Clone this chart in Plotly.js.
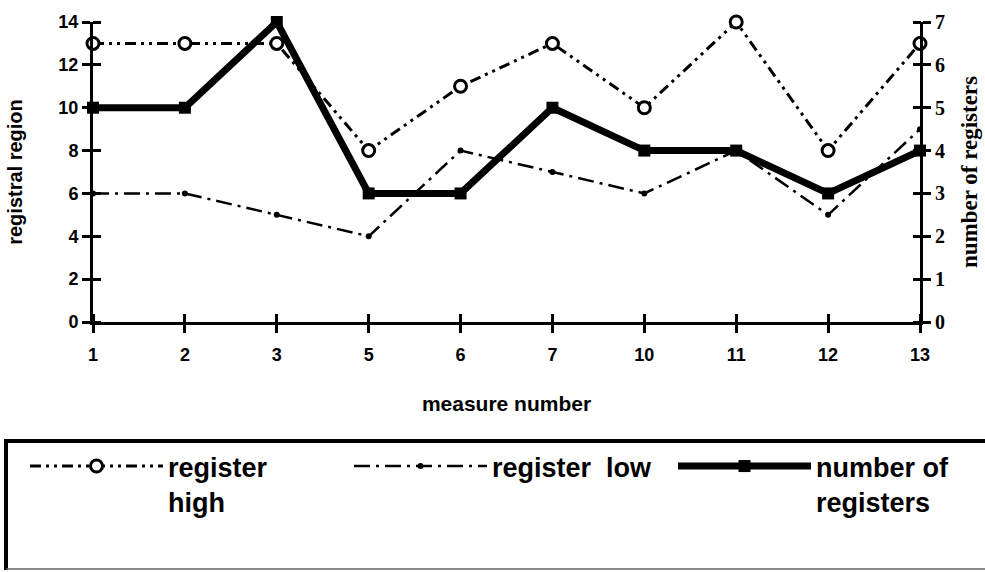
<!DOCTYPE html>
<html>
<head>
<meta charset="utf-8">
<script src="https://cdn.plot.ly/plotly-3.0.1.min.js"></script>
<style>
  html, body { margin: 0; padding: 0; background: #fff; }
  #chart { width: 985px; height: 572px; }
</style>
</head>
<body>
<div id="chart"></div>
<script>
// ---- data ----
const measures = ["1", "2", "3", "5", "6", "7", "10", "11", "12", "13"];
const registerHigh = [13, 13, 13, 8, 11, 13, 10, 14, 8, 13];
const registerLow = [6, 6, 5, 4, 8, 7, 6, 8, 5, 9];
const numberOfRegisters = [5, 5, 7, 3, 3, 5, 4, 4, 3, 4];
const leftTicks = [0, 2, 4, 6, 8, 10, 12, 14];
const rightTicks = [0, 1, 2, 3, 4, 5, 6, 7];

const sans = "Liberation Sans, Arial, Helvetica, sans-serif";
const serif = "Liberation Serif, Times New Roman, serif";

// pixel -> paper helpers (plot area: left 93, width 892, top 22, height 300)
const PL = 93, PW = 892, PT = 22, PH = 300;
const px = v => (v - PL) / PW;
const py = v => (PT + PH - v) / PH;

const traces = [
  {
    name: "register<br>high",
    x: measures, y: registerHigh,
    xaxis: "x", yaxis: "y",
    mode: "lines+markers",
    line: { color: "#000", width: 3, dash: "11px,5px,3px,5px,3px,5px" },
    marker: { symbol: "circle", size: 12, color: "#fff", line: { color: "#000", width: 3 } },
    cliponaxis: false
  },
  {
    name: "register  low",
    x: measures, y: registerLow,
    xaxis: "x", yaxis: "y",
    mode: "lines+markers",
    line: { color: "#000", width: 2.5, dash: "16px,6px,3px,6px" },
    marker: { symbol: "circle", size: 6, color: "#000" },
    cliponaxis: false
  },
  {
    name: "number of<br>registers",
    x: measures, y: numberOfRegisters,
    xaxis: "x", yaxis: "y2",
    mode: "lines+markers",
    line: { color: "#000", width: 7 },
    marker: { symbol: "square", size: 12, color: "#000" },
    cliponaxis: false
  },
  // invisible helpers so the inner-tick axes are drawn
  { x: measures, y: registerHigh, xaxis: "x2", yaxis: "y3", showlegend: false, hoverinfo: "skip", mode: "lines", opacity: 0, line: { width: 0 } },
  { x: measures, y: numberOfRegisters, xaxis: "x2", yaxis: "y4", showlegend: false, hoverinfo: "skip", mode: "lines", opacity: 0, line: { width: 0 } }
];

const dom = [0, (920 - PL) / PW];

const layout = {
  width: 985, height: 572,
  margin: { l: PL, r: 0, t: PT, b: 572 - PT - PH, autoexpand: false },
  paper_bgcolor: "#fff", plot_bgcolor: "#fff",
  showlegend: true,
  font: { family: sans, color: "#000" },
  xaxis: {
    type: "category",
    domain: dom,
    range: [0, 9],
    showgrid: false, zeroline: false,
    showline: true, linecolor: "#000", linewidth: 3,
    ticks: "outside", ticklen: 8, tickwidth: 3, tickcolor: "#000",
    ticklabelstandoff: 6,
    tickfont: { family: sans, size: 18, weight: "bold" },
    title: { text: "measure number", font: { family: sans, size: 21, weight: "bold" }, standoff: 33 },
    automargin: false
  },
  // inner half of the crossing x ticks
  xaxis2: {
    type: "category",
    overlaying: "x", anchor: "free", position: 0, side: "top",
    range: [0, 9],
    showgrid: false, zeroline: false, showline: false,
    ticks: "outside", ticklen: 8, tickwidth: 3, tickcolor: "#000",
    showticklabels: false
  },
  yaxis: {
    range: [0, 14],
    tickvals: leftTicks,
    showgrid: false, zeroline: false,
    showline: true, linecolor: "#000", linewidth: 3,
    ticks: "outside", ticklen: 8, tickwidth: 3, tickcolor: "#000",
    tickfont: { family: sans, size: 18, weight: "bold" },
    title: { text: "registral region", font: { family: sans, size: 20, weight: "bold" }, standoff: 31 },
    automargin: false
  },
  yaxis2: {
    overlaying: "y", side: "right", anchor: "x",
    range: [0, 7],
    tickvals: rightTicks,
    showgrid: false, zeroline: false,
    showline: true, linecolor: "#000", linewidth: 3,
    ticks: "outside", ticklen: 8, tickwidth: 3, tickcolor: "#000",
    tickfont: { family: serif, size: 20, weight: "bold" },
    title: { text: "number of registers", font: { family: serif, size: 23, weight: "bold" }, standoff: 17 },
    automargin: false
  },
  // inner half of the crossing left ticks
  yaxis3: {
    overlaying: "y", anchor: "free", position: 0, shift: 8, autoshift: false, side: "left",
    range: [0, 14], tickvals: leftTicks,
    showgrid: false, zeroline: false, showline: false,
    ticks: "outside", ticklen: 8, tickwidth: 3, tickcolor: "#000",
    showticklabels: false
  },
  // inner half of the crossing right ticks
  yaxis4: {
    overlaying: "y", anchor: "free", position: dom[1], shift: -8, autoshift: false, side: "right",
    range: [0, 7], tickvals: rightTicks,
    showgrid: false, zeroline: false, showline: false,
    ticks: "outside", ticklen: 8, tickwidth: 3, tickcolor: "#000",
    showticklabels: false
  },
  legend: {
    orientation: "h",
    x: px(25), xanchor: "left",
    y: py(442), yanchor: "top",
    borderwidth: 0,
    bgcolor: "rgba(0,0,0,0)",
    font: { family: sans, size: 27, weight: "bold", color: "#000" },
    itemwidth: 133,
    entrywidth: 176, entrywidthmode: "pixels",
    valign: "top",
    traceorder: "normal"
  },
  shapes: [
    { type: "line", xref: "paper", yref: "paper", x0: px(4), x1: px(995), y0: py(441), y1: py(441), line: { color: "#000", width: 4 } },
    { type: "line", xref: "paper", yref: "paper", x0: px(6), x1: px(6), y0: py(441), y1: py(570), line: { color: "#000", width: 4 } },
    { type: "line", xref: "paper", yref: "paper", x0: px(6), x1: px(995), y0: py(569), y1: py(569), line: { color: "#666", width: 1.5 } }
  ]
};

Plotly.newPlot("chart", traces, layout, { displayModeBar: false, staticPlot: true });
</script>
</body>
</html>
